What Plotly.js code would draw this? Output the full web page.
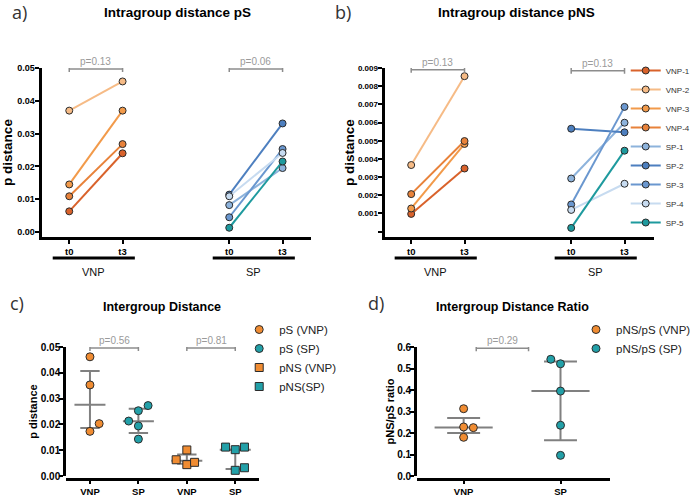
<!DOCTYPE html>
<html><head><meta charset="utf-8">
<script src="https://cdn.plot.ly/plotly-3.0.1.min.js"></script>
<style>html,body{margin:0;padding:0;background:#fff}#chart{width:696px;height:498px}</style>
</head><body><div id="chart"></div>
<script>
// ---------------- DATA ----------------
const seriesNames = ['VNP-1','VNP-2','VNP-3','VNP-4','SP-1','SP-2','SP-3','SP-4','SP-5'];
const seriesGroup = ['VNP','VNP','VNP','VNP','SP','SP','SP','SP','SP'];
const timeLabels = ['t0','t3'];
const groupNames = ['VNP','SP'];
// panel a: intragroup pS
const psT0 = [0.0063, 0.0370, 0.0145, 0.0109, 0.0082, 0.0114, 0.0045, 0.0109, 0.0013];
const psT3 = [0.0240, 0.0459, 0.0370, 0.0268, 0.0195, 0.0331, 0.0253, 0.0241, 0.0215];
const pValA = ['p=0.13', 'p=0.06'];
// panel b: intragroup pNS
const pnsT0 = [0.00097, 0.00366, 0.00127, 0.00206, 0.00292, 0.00566, 0.00149, 0.00119, 0.00020];
const pnsT3 = [0.00347, 0.00855, 0.00482, 0.00498, 0.00599, 0.00546, 0.00686, 0.00263, 0.00445];
const pValB = ['p=0.13', 'p=0.13'];
const pnsTickVals = [0, 0.001, 0.002, 0.003, 0.004, 0.005, 0.006, 0.007, 0.008, 0.009];
const pnsTickText = ['', '0.001', '0.002', '0.003', '0.004', '0.005', '0.006', '0.007', '0.008', '0.009'];
// panel c: intergroup distance
const interCats = ['VNP', 'SP', 'VNP', 'SP'];
const interNames = ['pS (VNP)', 'pS (SP)', 'pNS (VNP)', 'pNS(SP)'];
const psVNP = [0.0462, 0.0353, 0.0203, 0.0173];
const psSP = [0.0213, 0.0253, 0.0273, 0.0194, 0.0143];
const pnsVNP = [0.0063, 0.0101, 0.0044, 0.0053];
const pnsSP = [0.0112, 0.0102, 0.0112, 0.0022, 0.0032];
const interMedian = [0.0276, 0.0212, 0.0059, 0.0102];
const interLow = [0.0186, 0.0167, 0.0047, 0.0027];
const interHigh = [0.0407, 0.0261, 0.0083, 0.0102];
const pValC = ['p=0.56', 'p=0.81'];
// panel d: intergroup distance ratio
const ratioCats = ['VNP', 'SP'];
const ratioNames = ['pNS/pS (VNP)', 'pNS/pS (SP)'];
const ratioVNP = [0.313, 0.228, 0.225, 0.180];
const ratioSP = [0.543, 0.522, 0.395, 0.236, 0.096];
const ratioMedian = [0.226, 0.395];
const ratioLow = [0.200, 0.166];
const ratioHigh = [0.270, 0.533];
const pValD = ['p=0.29'];

// ---------------- STYLE / LAYOUT ----------------
const W = 696, H = 498;
const px = v => v / W, py = v => 1 - v / H;
const FONT = 'Liberation Sans, Arial, sans-serif';
const seriesColors = ['#d9622b', '#f6bb86', '#f29a4a', '#e8823a', '#8db3dc', '#4d7fbf', '#6a97cf', '#c7dbf0', '#1e9a9e'];
const orange = '#f08c32', teal = '#22a0a8', gray = '#808080';
const timePos = {VNP: [0, 1], SP: [3, 4]};
// jitter offsets (category units) for the scatter panels
const jitPsVNP = [0, 0, 0.19, 0];
const jitPsSP = [-0.2, 0, 0.2, 0, 0];
const jitPnsVNP = [-0.22, 0, 0, 0.16];
const jitPnsSP = [-0.2, 0, 0.19, 0, 0.19];
const jitRatioVNP = [0, 0, 0.1, 0];
const jitRatioSP = [-0.1, 0, 0, 0, 0];

const traces = [];
function addPaired(t0, t3, xa, ya, legendOn) {
  seriesNames.forEach((n, i) => {
    const xs = timePos[seriesGroup[i]];
    traces.push({
      type: 'scatter', mode: 'lines+markers', name: n,
      x: xs, y: [t0[i], t3[i]], xaxis: xa, yaxis: ya,
      line: {color: seriesColors[i], width: 2},
      marker: {size: 7, color: seriesColors[i], line: {color: '#2b2b2b', width: 1}},
      showlegend: legendOn, legend: 'legend', hoverinfo: 'skip'
    });
  });
}
addPaired(psT0, psT3, 'x', 'y', false);
addPaired(pnsT0, pnsT3, 'x2', 'y2', true);

function summary(c, med, lo, hi, hw, cw, xa, ya) {
  traces.push({
    type: 'scatter', mode: 'lines', x: [c - hw, c + hw, null, c, c, null, c - cw, c + cw, null, c - cw, c + cw],
    y: [med, med, null, lo, hi, null, lo, lo, null, hi, hi], xaxis: xa, yaxis: ya,
    line: {color: gray, width: 2}, showlegend: false, hoverinfo: 'skip'
  });
}
interMedian.forEach((m, i) => summary(i, m, interLow[i], interHigh[i], 0.32, 0.2, 'x3', 'y3'));
ratioMedian.forEach((m, i) => summary(i, m, ratioLow[i], ratioHigh[i], 0.3, 0.17, 'x4', 'y4'));

function pts(vals, cat, jit, color, symbol, name, xa, ya, leg, size) {
  traces.push({
    type: 'scatter', mode: 'markers', name: name,
    x: vals.map((v, k) => cat + jit[k]), y: vals, xaxis: xa, yaxis: ya,
    marker: {size: size, color: color, symbol: symbol, line: {color: '#2b2b2b', width: 1}},
    showlegend: true, legend: leg, hoverinfo: 'skip'
  });
}
pts(psVNP, 0, jitPsVNP, orange, 'circle', interNames[0], 'x3', 'y3', 'legend2', 8);
pts(psSP, 1, jitPsSP, teal, 'circle', interNames[1], 'x3', 'y3', 'legend2', 8);
pts(pnsVNP, 2, jitPnsVNP, orange, 'square', interNames[2], 'x3', 'y3', 'legend2', 8);
pts(pnsSP, 3, jitPnsSP, teal, 'square', interNames[3], 'x3', 'y3', 'legend2', 8);
pts(ratioVNP, 0, jitRatioVNP, orange, 'circle', ratioNames[0], 'x4', 'y4', 'legend3', 8);
pts(ratioSP, 1, jitRatioSP, teal, 'circle', ratioNames[1], 'x4', 'y4', 'legend3', 8);

const axBase = {
  showline: true, linewidth: 3, linecolor: '#000', ticks: 'outside', ticklen: 4, tickwidth: 2,
  tickcolor: '#000', showgrid: false, zeroline: false, fixedrange: true
};
const tickFontSmall = {family: FONT, size: 9, color: '#000', weight: 'bold'};

const shapes = [], annotations = [];
function bracket(xa, ya, x0, x1, y, label) {
  const ln = {color: '#8c8c8c', width: 1.5};
  shapes.push({type: 'line', xref: xa, yref: ya, x0: x0, x1: x1, y0: y, y1: y, line: ln});
  [x0, x1].forEach(x => shapes.push({type: 'line', xref: xa, yref: ya, x0: x, x1: x,
    ysizemode: 'pixel', yanchor: y, y0: -3, y1: 3, line: ln}));
  annotations.push({xref: xa, yref: ya, x: (x0 + x1) / 2, y: y, xanchor: 'center', yanchor: 'bottom', yshift: 0,
    text: label, showarrow: false, font: {family: FONT, size: 10, color: '#9a9a9a'}});
}
bracket('x', 'y', 0, 1, 0.0497, pValA[0]);
bracket('x', 'y', 3, 4, 0.0497, pValA[1]);
bracket('x2', 'y2', 0, 1, 0.0089, pValB[0]);
bracket('x2', 'y2', 3, 4, 0.00885, pValB[1]);
bracket('x3', 'y3', 0, 1, 0.0496, pValC[0]);
bracket('x3', 'y3', 2, 3, 0.0496, pValC[1]);
bracket('x4', 'y4', 0.13, 0.67, 0.594, pValD[0]);

function groupBars(xa) {
  groupNames.forEach(g => {
    const p = timePos[g];
    shapes.push({type: 'line', xref: xa, yref: 'paper', x0: p[0] - 0.31, x1: p[1] + 0.23,
      y0: py(258), y1: py(258), line: {color: '#000', width: 3}});
    annotations.push({xref: xa, yref: 'paper', x: (p[0] + p[1]) / 2 - 0.04, y: py(272),
      xanchor: 'center', yanchor: 'middle',
      text: g, showarrow: false, font: {family: FONT, size: 11, color: '#111'}});
  });
}
groupBars('x'); groupBars('x2');

function title(text, xc, yc, size) {
  annotations.push({xref: 'paper', yref: 'paper', x: px(xc), y: py(yc), xanchor: 'center', yanchor: 'middle',
    text: text, showarrow: false, font: {family: FONT, size: size, color: '#000', weight: 'bold'}});
}
title('Intragroup distance pS', 180, 13, 13.5);
title('Intragroup distance pNS', 523, 13, 13.5);
title('Intergroup Distance', 164, 307, 12.5);
title('Intergroup Distance Ratio', 518, 307, 12.5);
function letter(text, xl, yc) {
  annotations.push({xref: 'paper', yref: 'paper', x: px(xl), y: py(yc), xanchor: 'left', yanchor: 'middle',
    text: text, showarrow: false, font: {family: 'Open Sans, sans-serif', size: 18, color: '#333'}});
}
letter('a)', 10, 12); letter('b)', 337, 12); letter('c)', 8, 303); letter('d)', 370, 303);

const timeTickText = [timeLabels[0], timeLabels[1], timeLabels[0], timeLabels[1]];
const yTitleFont = s => ({family: FONT, size: s, color: '#000', weight: 'bold'});
const layout = {
  width: W, height: H, margin: {l: 0, r: 0, t: 0, b: 0}, paper_bgcolor: '#fff', plot_bgcolor: 'rgba(0,0,0,0)',
  font: {family: FONT},
  xaxis: Object.assign({}, axBase, {domain: [px(42), px(315)], range: [-0.52, 4.54], anchor: 'y',
    tickvals: [0, 1, 3, 4], ticktext: timeTickText, tickfont: {family: FONT, size: 9.5, color: '#000', weight: 'bold'}}),
  yaxis: Object.assign({}, axBase, {domain: [py(237), py(68)], range: [-0.00152, 0.05], anchor: 'x',
    tickvals: [0, 0.01, 0.02, 0.03, 0.04, 0.05], tickformat: '.2f', tickfont: tickFontSmall, ticklabelstandoff: -2,
    title: {text: 'p distance', standoff: 2, font: yTitleFont(13.5)}}),
  xaxis2: Object.assign({}, axBase, {domain: [px(389), px(662)], range: [-0.5, 4.56], anchor: 'y2',
    tickvals: [0, 1, 3, 4], ticktext: timeTickText, tickfont: {family: FONT, size: 9.5, color: '#000', weight: 'bold'}}),
  yaxis2: Object.assign({}, axBase, {domain: [py(237), py(68)], range: [-0.0003, 0.009], anchor: 'x2',
    tickvals: pnsTickVals, ticktext: pnsTickText, tickfont: {family: FONT, size: 8, color: '#000', weight: 'bold'},
    ticklabelstandoff: -2,
    title: {text: 'p distance', standoff: 1, font: yTitleFont(13.5)}}),
  xaxis3: Object.assign({}, axBase, {domain: [px(67), px(262)], range: [-0.49, 3.49], anchor: 'free', position: py(479),
    ticklen: 3, tickvals: [0, 1, 2, 3], ticktext: interCats, tickfont: {family: FONT, size: 9.5, color: '#000', weight: 'bold'}}),
  yaxis3: Object.assign({}, axBase, {domain: [py(476), py(347)], range: [0, 0.05], anchor: 'x3',
    tickvals: [0, 0.01, 0.02, 0.03, 0.04, 0.05], tickformat: '.2f', tickfont: {family: FONT, size: 10, color: '#000', weight: 'bold'},
    ticklabelstandoff: -3,
    title: {text: 'p distance', standoff: 1, font: yTitleFont(11)}}),
  xaxis4: Object.assign({}, axBase, {domain: [px(422), px(617)], range: [-0.48, 1.51], anchor: 'free', position: py(479),
    ticklen: 3, tickvals: [0, 1], ticktext: ratioCats, tickfont: {family: FONT, size: 9.5, color: '#000', weight: 'bold'}}),
  yaxis4: Object.assign({}, axBase, {domain: [py(476), py(347)], range: [0, 0.6], anchor: 'x4',
    tickvals: [0, 0.1, 0.2, 0.3, 0.4, 0.5, 0.6], tickformat: '.1f', tickfont: {family: FONT, size: 10, color: '#000', weight: 'bold'},
    ticklabelstandoff: -3,
    title: {text: 'pNS/pS ratio', standoff: 1, font: yTitleFont(11)}}),
  legend: {x: px(633), y: py(56), xanchor: 'left', yanchor: 'top', bgcolor: 'rgba(0,0,0,0)',
    font: {family: FONT, size: 8, color: '#333'}},
  legend2: {x: px(242), y: py(315), xanchor: 'left', yanchor: 'top', bgcolor: 'rgba(0,0,0,0)',
    font: {family: FONT, size: 11.5, color: '#222'}},
  legend3: {x: px(583), y: py(315), xanchor: 'left', yanchor: 'top', bgcolor: 'rgba(0,0,0,0)',
    font: {family: FONT, size: 11.5, color: '#222'}},
  shapes: shapes, annotations: annotations, showlegend: true
};
Plotly.newPlot('chart', traces, layout, {displayModeBar: false, staticPlot: true});
</script></body></html>
